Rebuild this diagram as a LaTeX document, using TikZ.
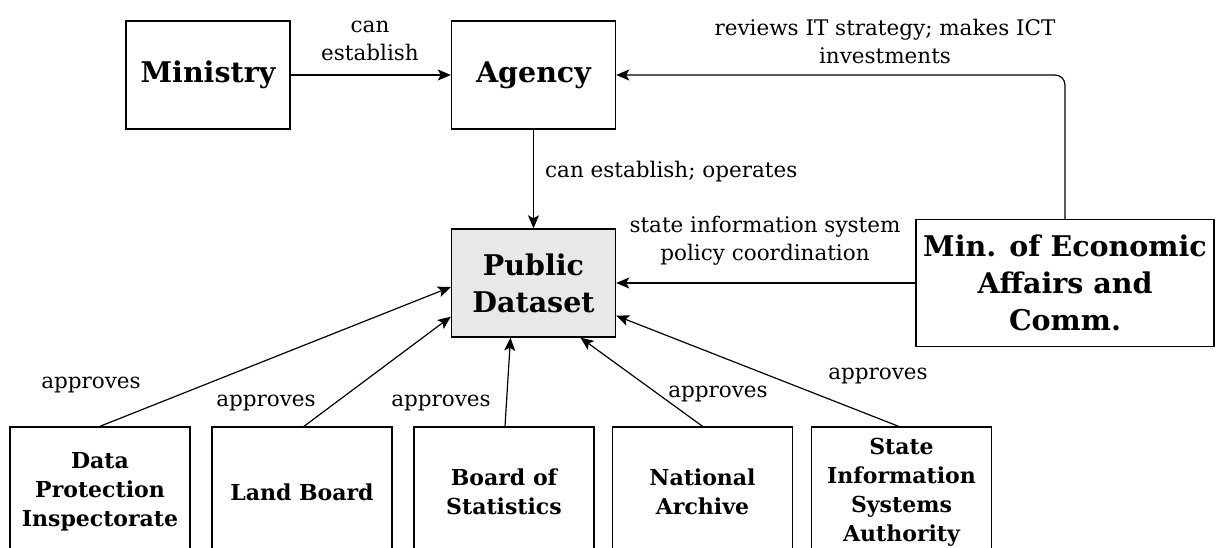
\documentclass[tikz,border=0pt]{standalone}
\usepackage{fontspec}
\setmainfont{DejaVu Serif}
\usepackage{tikz}
\usetikzlibrary{calc}
\usetikzlibrary{positioning, fit, arrows.meta}

\begin{document}
\begin{tikzpicture}[x=1pt, y=-1pt,
                    every node/.style={align=center, inner sep=0pt},
                    box/.style={draw, line width=1.4pt, minimum width=164pt, minimum height=108pt, font=\fontsize{28.5}{37}\selectfont\bfseries},
                    unit/.style={draw, line width=1.4pt, minimum width=180pt, minimum height=130pt, font=\fontsize{22}{29}\selectfont\bfseries},
                    rel/.style={font=\fontsize{21.5}{28}\selectfont},
                    link/.style={-{Stealth[length=13pt, width=11pt, inset=3pt]}, line width=1.2pt}]
                  \clip (0,0) rectangle (1216,548);
                  \node[box] (ministry) at (208,75) {Ministry};
                  \node[box] (agency) at (533.5,75) {Agency};
                  \node[box, fill=gray!18] (pd) at (533.5,283) {Public\\Dataset};
                  \node[box, minimum width=298pt, minimum height=127pt] (mineco) at (1065,283) {Min. of Economic\\Affairs and\\Comm.};
                  \node[unit] (dpi) at (100,492) {Data\\Protection\\Inspectorate};
                  \node[unit] (lb) at (302,492) {Land Board};
                  \node[unit] (bos) at (504,492) {Board of\\Statistics};
                  \node[unit] (na) at (702.5,492) {National\\Archive};
                  \node[unit] (sisa) at (901.5,492) {State\\Information\\Systems\\Authority};
                  \node[rel] (est) at (370,41) {can\\establish};
                  \node[rel] (rev) at (885,41) {reviews IT strategy; makes ICT\\investments};
                  \node[rel, anchor=west] (ops) at (545,172) {can establish; operates};
                  \node[rel] (pol) at (765,241) {state information system\\policy coordination};
                  \node[rel] (ap1) at (91,385) {approves};
                  \node[rel] (ap2) at (266,403) {approves};
                  \node[rel] (ap3) at (441,403) {approves};
                  \node[rel] (ap4) at (718,394) {approves};
                  \node[rel] (ap5) at (878,376) {approves};
                  \draw[link] (ministry) -- (agency);
                  \draw[link] (agency) -- (pd);
                  \draw[link, rounded corners=10pt] (mineco.north) |- (agency.east);
                  \draw[link] (mineco) -- (pd);
                  \draw[link] (dpi.north) -- ($(pd.west)+(0,4)$);
                  \draw[link] ($(lb.north)+(2,0)$) -- ($(pd.south west)+(0,-21)$);
                  \draw[link] ($(bos.north)+(1,0)$) -- ($(pd.south)+(-23,0)$);
                  \draw[link] (na.north) -- ($(pd.south)+(47,0)$);
                  \draw[link] ($(sisa.north)+(-3,0)$) -- ($(pd.south east)+(0,-22)$);
              \end{tikzpicture}
\end{document}
